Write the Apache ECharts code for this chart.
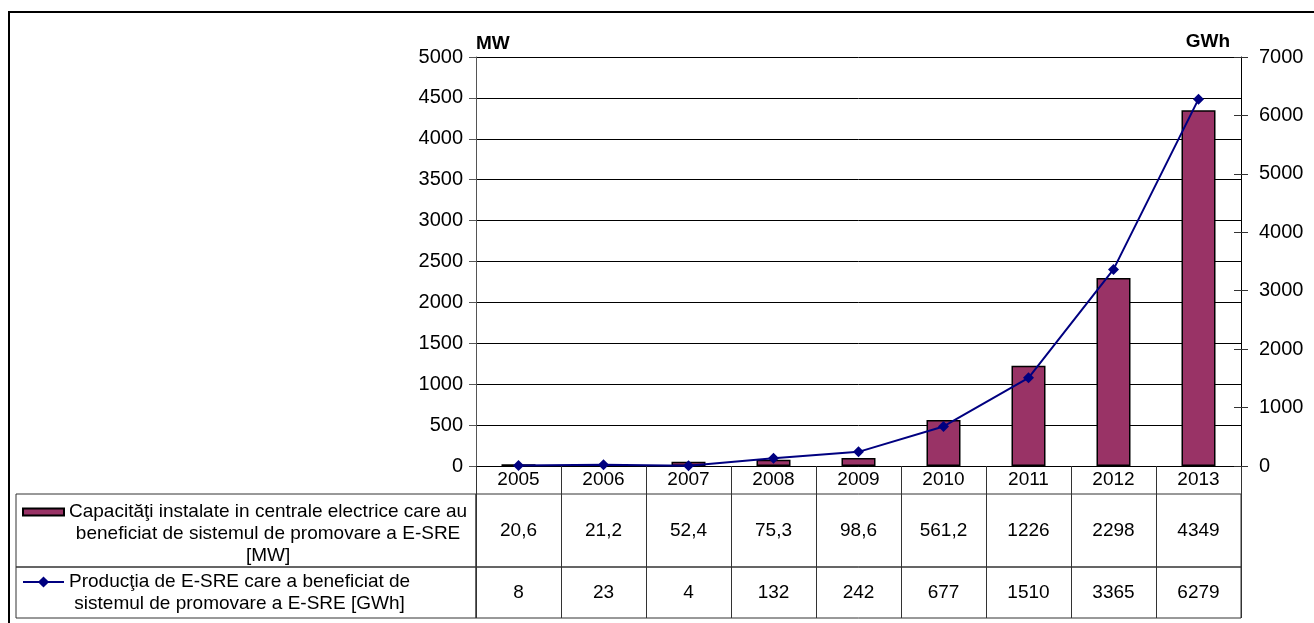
<!DOCTYPE html>
<html>
<head>
<meta charset="utf-8">
<script src="https://cdn.jsdelivr.net/npm/echarts@6/dist/echarts.min.js"></script>
<style>
html,body{margin:0;padding:0;background:#fff;}
#c{width:1314px;height:623px;}
</style>
</head>
<body>
<div id="c"></div>
<script>
// ---- data ----
const years = ['2005','2006','2007','2008','2009','2010','2011','2012','2013'];
const capacityMW = [20.6, 21.2, 52.4, 75.3, 98.6, 561.2, 1226, 2298, 4349];
const productionGWh = [8, 23, 4, 132, 242, 677, 1510, 3365, 6279];
const leftAxisRange = [0, 5000, 500];   // min, max, step (MW)
const rightAxisRange = [0, 7000, 1000]; // min, max, step (GWh)
const leftAxisName = 'MW';
const rightAxisName = 'GWh';
const seriesNames = [
  'Capacităţi instalate in centrale electrice care au\nbeneficiat de sistemul de promovare a E-SRE\n[MW]',
  'Producţia de E-SRE care a beneficiat de\nsistemul de promovare a E-SRE [GWh]'
];

// ---- helpers ----
const FONT = '"Liberation Sans", Arial, sans-serif';
const fmt = v => String(v).replace('.', ',');
const legendText = (blank) => name => blank + name.split('\n').map(s => '{c|' + s + '}').join('\n');
const hiddenAxis = (gi) => ({ gridIndex: gi, type: 'value', show: false });
const rowAxis = (gi, values, margin) => ({
  gridIndex: gi, type: 'category', data: years, position: 'bottom',
  axisLine: { show: false }, axisTick: { show: false },
  splitLine: { show: true, interval: 0, lineStyle: { color: '#333', width: 1 } },
  axisLabel: {
    inside: true, interval: 0, margin: margin, verticalAlign: 'middle',
    fontFamily: FONT, fontSize: 19, color: '#000',
    formatter: (v, i) => fmt(values[i])
  }
});
const cellGrid = (o) => Object.assign({ show: true, borderColor: '#333', borderWidth: 1, backgroundColor: 'transparent' }, o);
const legendStyle = {
  fontFamily: FONT, fontSize: 19, color: '#000', lineHeight: 22,
  rich: { c: { align: 'center', fontFamily: FONT, fontSize: 19, color: '#000', lineHeight: 22 } }
};

const chart = echarts.init(document.getElementById('c'), null, { renderer: 'canvas' });
chart.setOption({
  backgroundColor: '#fff',
  animation: false,
  graphic: [{
    type: 'polyline', silent: true,
    shape: { points: [[9, 623], [9, 12], [1314, 12]] },
    style: { stroke: '#000', lineWidth: 2, fill: null }
  }],
  grid: [
    { left: 476, right: 73, top: 57, height: 409 },
    cellGrid({ left: 476, right: 73, top: 494, height: 73 }),
    cellGrid({ left: 476, right: 73, top: 567, height: 51 }),
    cellGrid({ left: 16, width: 460, top: 494, height: 73 }),
    cellGrid({ left: 16, width: 460, top: 567, height: 51 })
  ],
  legend: [
    {
      data: [seriesNames[0]], left: 22, top: 457, padding: 0, selectedMode: false,
      itemWidth: 41, itemHeight: 7, icon: 'rect',
      textStyle: legendStyle, formatter: legendText('\n\n')
    },
    {
      data: [seriesNames[1]], left: 22, top: 549, padding: 0, selectedMode: false,
      itemWidth: 41, itemHeight: 14,
      textStyle: legendStyle, formatter: legendText('\n')
    }
  ],
  xAxis: [
    {
      gridIndex: 0, type: 'category', data: years,
      axisLine: { show: true, lineStyle: { color: '#000', width: 1 } },
      axisTick: { show: true, interval: 0, length: 28, lineStyle: { color: '#333' } },
      axisLabel: { interval: 0, margin: 14, verticalAlign: 'middle', fontFamily: FONT, fontSize: 19, color: '#000' }
    },
    rowAxis(1, capacityMW, 36.5),
    rowAxis(2, productionGWh, 25.5),
    hiddenAxis(3),
    hiddenAxis(4)
  ],
  yAxis: [
    {
      gridIndex: 0, type: 'value', position: 'left',
      min: leftAxisRange[0], max: leftAxisRange[1], interval: leftAxisRange[2],
      name: leftAxisName, nameLocation: 'end', nameGap: 13,
      nameTextStyle: { fontFamily: FONT, fontWeight: 'bold', fontSize: 19, color: '#000', align: 'left', verticalAlign: 'middle' },
      axisLine: { show: true, lineStyle: { color: '#555' } },
      axisTick: { show: true, length: 7, lineStyle: { color: '#555' } },
      splitLine: { show: true, lineStyle: { color: '#000', width: 1 } },
      axisLabel: { fontFamily: FONT, fontSize: 20, color: '#000', margin: 13, formatter: v => String(v) }
    },
    {
      gridIndex: 0, type: 'value', position: 'right',
      min: rightAxisRange[0], max: rightAxisRange[1], interval: rightAxisRange[2],
      name: rightAxisName, nameLocation: 'end', nameGap: 15,
      nameTextStyle: { fontFamily: FONT, fontWeight: 'bold', fontSize: 19, color: '#000', align: 'right', verticalAlign: 'middle', padding: [0, 11, 0, 0] },
      axisLine: { show: true, lineStyle: { color: '#000' } },
      axisTick: { show: true, length: 7, lineStyle: { color: '#333' } },
      splitLine: { show: false },
      axisLabel: { fontFamily: FONT, fontSize: 20, color: '#000', margin: 18, formatter: v => String(v) }
    },
    {
      gridIndex: 0, type: 'value', position: 'right',
      min: rightAxisRange[0], max: rightAxisRange[1], interval: rightAxisRange[2],
      axisLine: { show: false },
      axisTick: { show: true, inside: true, length: 7, lineStyle: { color: '#333' } },
      axisLabel: { show: false }, splitLine: { show: false }
    },
    hiddenAxis(1),
    hiddenAxis(2),
    hiddenAxis(3),
    hiddenAxis(4)
  ],
  series: [
    {
      name: seriesNames[0], type: 'bar', xAxisIndex: 0, yAxisIndex: 0,
      data: capacityMW, barWidth: '40%',
      itemStyle: { color: '#993366', borderColor: '#000', borderWidth: 1.5 }
    },
    {
      name: seriesNames[1], type: 'line', xAxisIndex: 0, yAxisIndex: 1,
      data: productionGWh, symbol: 'diamond', symbolSize: 11,
      lineStyle: { color: '#000080', width: 2 },
      itemStyle: { color: '#000080' }
    }
  ]
});
</script>
</body>
</html>
